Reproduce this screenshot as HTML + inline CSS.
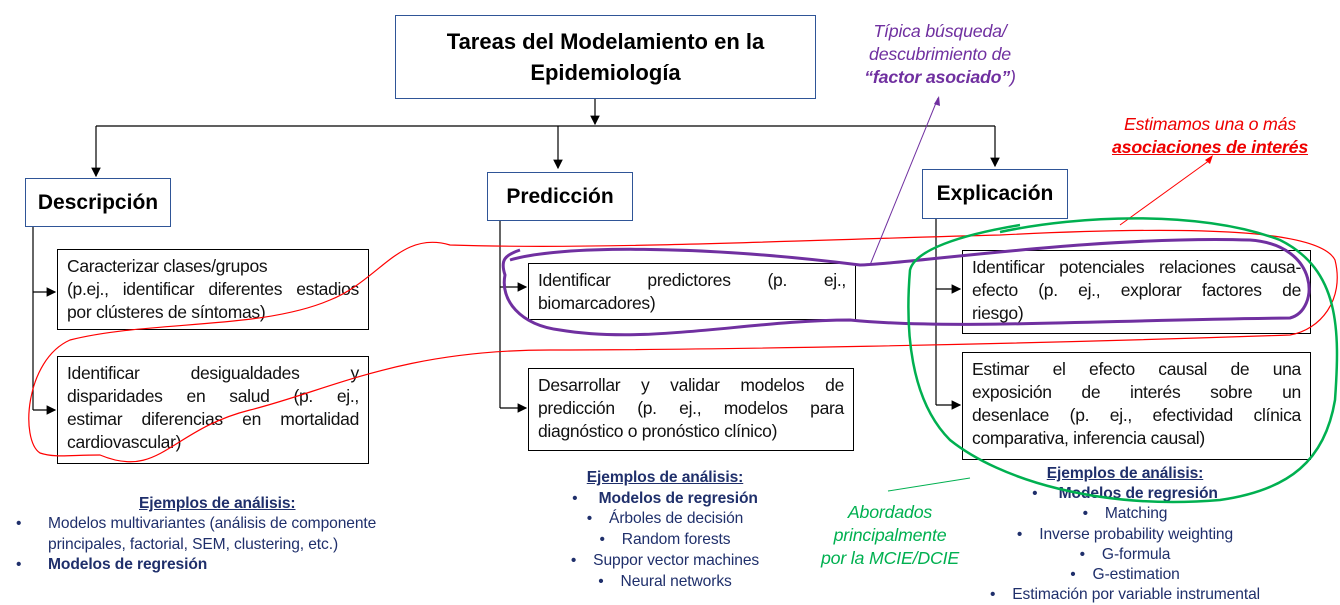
<!DOCTYPE html>
<html><head><meta charset="utf-8"><style>
body{margin:0;width:1340px;height:605px;background:#fff;position:relative;overflow:hidden;font-family:"Liberation Sans",sans-serif;}
.b{position:absolute;border:1px solid #000;background:#fff;box-sizing:border-box;font-size:17.5px;line-height:23px;color:#111;padding:5px 9px;letter-spacing:-0.3px}
.b div{text-align:justify;text-align-last:justify;white-space:nowrap}
.b div.l{text-align-last:left}
.h{position:absolute;border:1px solid #2f5597;background:#fff;box-sizing:border-box;font-weight:bold;display:flex;align-items:center;justify-content:center;color:#000}
.t{position:absolute;font-size:15.6px;color:#1f2f6b;line-height:20.5px;letter-spacing:-0.1px;white-space:nowrap}
svg{position:absolute;left:0;top:0}
.a{position:absolute;text-align:center;font-style:italic;font-size:17.8px;line-height:23px;letter-spacing:-0.2px}
</style></head><body>
<svg width="1340" height="605">
<defs><marker id="a" markerWidth="8" markerHeight="8" refX="7" refY="4" orient="auto"><path d="M0,0L8,4L0,8z" fill="#000"/></marker></defs>
<g stroke="#000" stroke-width="1.2" fill="none">
<path d="M595,98V124" marker-end="url(#a)"/>
<path d="M96,126H995"/>
<path d="M96,126V176" marker-end="url(#a)"/>
<path d="M558,126V168" marker-end="url(#a)"/>
<path d="M995,126V166" marker-end="url(#a)"/>
<path d="M33,226V410"/><path d="M33,292H55" marker-end="url(#a)"/><path d="M33,410H55" marker-end="url(#a)"/>
<path d="M500,220V408"/><path d="M500,287H526" marker-end="url(#a)"/><path d="M500,408H526" marker-end="url(#a)"/>
<path d="M936,218V405"/><path d="M936,289H960" marker-end="url(#a)"/><path d="M936,405H960" marker-end="url(#a)"/>
</g>
</svg>
<div class="h" style="left:395px;top:15px;width:421px;height:84px;font-size:22px;line-height:31px;text-align:center">Tareas del Modelamiento en la<br>Epidemiología</div>
<div class="h" style="left:25px;top:178px;width:146px;height:49px;font-size:21px">Descripción</div>
<div class="h" style="left:487px;top:172px;width:146px;height:49px;font-size:21px">Predicción</div>
<div class="h" style="left:922px;top:169px;width:146px;height:50px;font-size:21px">Explicación</div>
<div class="b" style="left:57px;top:249px;width:312px;height:81px"><div class="l">Caracterizar clases/grupos</div><div>(p.ej., identificar diferentes estadios</div><div class="l">por clústeres de síntomas)</div></div>
<div class="b" style="left:57px;top:356px;width:312px;height:108px"><div>Identificar desigualdades y</div><div>disparidades en salud (p. ej.,</div><div>estimar diferencias en mortalidad</div><div class="l">cardiovascular)</div></div>
<div class="b" style="left:528px;top:263px;width:328px;height:57px"><div>Identificar predictores (p. ej.,</div><div class="l">biomarcadores)</div></div>
<div class="b" style="left:528px;top:368px;width:326px;height:83px"><div>Desarrollar y validar modelos de</div><div>predicción (p. ej., modelos para</div><div class="l">diagnóstico o pronóstico clínico)</div></div>
<div class="b" style="left:962px;top:250px;width:349px;height:84px"><div>Identificar potenciales relaciones causa-</div><div>efecto (p. ej., explorar factores de</div><div class="l">riesgo)</div></div>
<div class="b" style="left:962px;top:352px;width:349px;height:108px"><div>Estimar el efecto causal de una</div><div>exposición de interés sobre un</div><div>desenlace (p. ej., efectividad clínica</div><div class="l">comparativa, inferencia causal)</div></div>
<div class="t" style="left:139px;top:494px;font-weight:bold;text-decoration:underline">Ejemplos de análisis:</div>
<div class="t" style="left:16px;top:514px">•</div><div class="t" style="left:48px;top:514px">Modelos multivariantes (análisis de componente<br>principales, factorial, SEM, clustering, etc.)</div>
<div class="t" style="left:16px;top:555px">•</div><div class="t" style="left:48px;top:555px;font-weight:bold">Modelos de regresión</div>
<div class="t" style="left:540px;top:468px;width:250px;text-align:center;line-height:20.7px"><b><u>Ejemplos de análisis:</u></b><br>•&nbsp;&nbsp;&nbsp;&nbsp;&nbsp;<b>Modelos de regresión</b><br>•&nbsp;&nbsp;&nbsp;&nbsp;Árboles de decisión<br>•&nbsp;&nbsp;&nbsp;&nbsp;Random forests<br>•&nbsp;&nbsp;&nbsp;&nbsp;Suppor vector machines<br>•&nbsp;&nbsp;&nbsp;&nbsp;Neural networks</div>
<div class="t" style="left:960px;top:464px;width:330px;text-align:center;line-height:20.2px"><b><u>Ejemplos de análisis:</u></b><br>•&nbsp;&nbsp;&nbsp;&nbsp;&nbsp;<b>Modelos de regresión</b><br>•&nbsp;&nbsp;&nbsp;&nbsp;Matching<br>•&nbsp;&nbsp;&nbsp;&nbsp;Inverse probability weighting<br>•&nbsp;&nbsp;&nbsp;&nbsp;G-formula<br>•&nbsp;&nbsp;&nbsp;&nbsp;G-estimation<br>•&nbsp;&nbsp;&nbsp;&nbsp;Estimación por variable instrumental</div>
<div class="a" style="left:830px;top:20px;width:220px;color:#7030a0">Típica búsqueda/<br>descubrimiento de<br><b>“factor asociado”</b>)</div>
<div class="a" style="left:1090px;top:113px;width:240px;color:#e00">Estimamos una o más<br><b><u>asociaciones de interés</u></b></div>
<div class="a" style="left:790px;top:501px;width:200px;color:#00b050">Abordados<br>principalmente<br>por la MCIE/DCIE</div>
<svg width="1340" height="605" style="pointer-events:none">
<g fill="none">
<path d="M40,453C20,440 25,360 70,340C150,320 260,330 330,300C380,280 400,230 450,245C600,250 800,240 1000,235C1200,225 1320,230 1335,260C1345,300 1320,330 1290,335C1000,345 700,350 550,350C400,350 330,390 250,410C170,430 160,480 100,455C70,455 55,458 40,453Z" stroke="#f00" stroke-width="1.2"/>
<path d="M1120,225L1210,160" stroke="#f00" stroke-width="1"/>
<path d="M1205,160l8,-5l-3,9z" fill="#f00"/>
<path d="M510,260C560,245 700,245 860,265C900,265 1100,235 1250,240C1320,245 1320,310 1290,318C1100,320 950,330 850,320C750,320 650,345 560,330C520,325 500,300 505,275C500,260 505,255 520,250" stroke="#7030a0" stroke-width="3"/>
<path d="M870,265L938,98" stroke="#7030a0" stroke-width="1"/>
<path d="M934,104l5,-8l1,10z" fill="#7030a0"/>
<path d="M1000,232C1080,215 1200,210 1280,240C1340,270 1340,330 1335,400C1325,460 1290,490 1220,500C1100,510 1000,480 950,440C910,400 905,330 910,270C915,250 960,235 1020,225" stroke="#00b050" stroke-width="2.5"/>
<path d="M970,478L888,491" stroke="#00b050" stroke-width="1"/>
</g>
</svg>
</body></html>
